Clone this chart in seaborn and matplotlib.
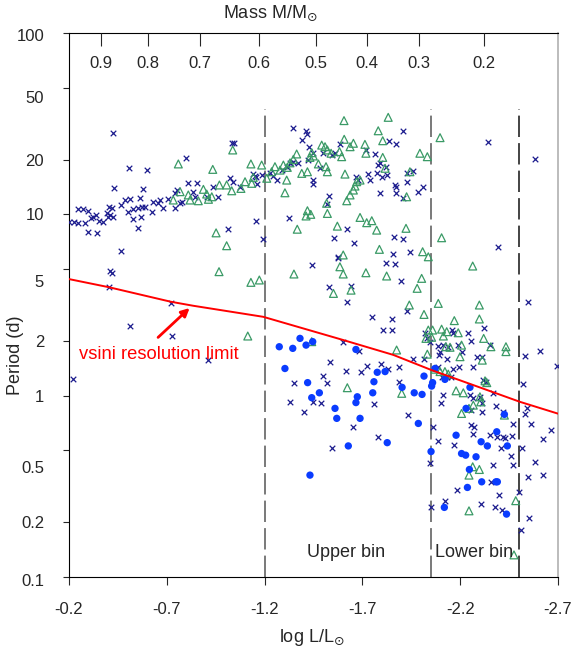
import numpy as np
import seaborn as sns
import matplotlib.pyplot as plt
import matplotlib.transforms as mtransforms

# log L/Lsun and log10 period (d) for the three samples
cross_logl = [-0.423, -0.798, -0.507, -0.597, -1.035, -1.044, -0.430, -0.580, -0.563, -0.512, -0.486, -0.466, -0.406,
              -0.418, -0.248, -0.270, -0.299, -0.338, -0.324, -0.393, -0.410, -0.426, -0.401, -0.503, -0.526, -0.554,
              -0.572, -0.589, -0.623, -0.631, -0.657, -0.682, -0.708, -0.742, -0.742, -0.768, -0.526, -0.568, -0.554,
              -0.299, -0.345, -0.202, -0.226, -0.248, -0.282, -0.311, -0.355, -0.375, -0.464, -0.807, -0.853, -0.751,
              -0.836, -0.844, -0.904, -0.963, -0.935, -1.023, -1.037, -1.074, -1.151, -1.160, -1.015, -1.156, -0.776,
              -0.665,
              -1.344, -1.412, -1.419, -1.390, -1.429, -1.585, -1.909, -1.838, -1.870, -1.718, -1.764, -1.142, -1.156,
              -1.185, -1.228, -1.245, -1.262, -1.287, -1.313, -1.330, -1.347, -1.372, -1.424, -1.449, -1.483, -1.500,
              -1.543, -1.560, -1.446, -1.446, -1.667, -1.676, -1.730, -1.739, -1.773, -1.781, -1.790, -1.801, -1.821,
              -1.824, -1.867, -1.872, -1.926, -1.926, -1.957, -1.790, -1.872, -1.909, -1.986, -2.012, -1.531, -1.521,
              -1.325, -1.190, -1.620, -1.555, -1.657, -1.862, -1.909, -1.855, -1.943, -1.577,
              -2.340, -2.582, -2.395,
              -0.410, -0.418, -0.404, -0.721, -0.512, -0.725, -0.909, -0.219,
              -1.574, -1.441, -1.821, -1.867, -1.897, -1.531, -1.642, -1.623, -1.926, -1.748, -1.850, -1.804, -1.850,
              -2.020, -2.029, -2.046, -1.599, -1.683, -1.960, -2.015, -1.534, -1.618, -1.693, -1.722, -1.794, -1.829,
              -1.889, -1.887, -1.497, -1.521, -1.352,
              -1.330, -1.449, -1.487, -1.403, -1.761, -1.935, -1.651, -1.781, -1.543, -2.110, -2.100, -2.059, -2.085,
              -2.046, -2.122, -2.049,
              -2.548, -2.323, -2.088, -2.097, -2.093, -2.114, -2.139, -2.157, -2.165, -2.238, -2.254, -2.190, -2.207,
              -2.352, -2.310, -2.288, -2.267, -2.195, -2.165, -2.134, -2.088, -2.151, -2.131, -2.105, -2.531, -2.608,
              -2.693, -2.523, -2.318, -2.332, -2.366, -2.250, -2.267, -2.301, -2.310, -2.383, -2.256, -2.310, -2.543,
              -2.531, -2.421, -2.562, -2.468, -2.664, -2.256, -2.273, -2.352, -2.387, -2.421, -2.463, -2.267, -2.622,
              -2.429, -2.409, -2.170, -2.516, -2.460, -2.370, -2.468, -2.582, -2.622, -2.545, -2.356, -2.185, -2.501,
              -2.400, -2.305, -2.378, -2.412, -2.552, -2.509]
cross_logp = [1.447, 1.309, 1.257, 1.244, 1.392, 1.392, 1.143, 1.138, 1.092, 1.083, 1.079, 1.051, 1.042,
              1.033, 1.028, 1.028, 1.018, 0.996, 0.983, 1.005, 0.996, 0.987, 0.983, 1.014, 1.028, 1.033,
              1.042, 1.039, 1.014, 1.070, 1.061, 1.033, 1.083, 1.116, 1.033, 1.061, 0.972, 0.983, 0.926,
              0.904, 0.898, 0.959, 0.959, 0.954, 0.954, 0.978, 0.965, 0.959, 0.798, 1.171, 1.171, 1.134,
              1.125, 1.094, 1.097, 1.097, 1.149, 1.199, 1.180, 1.149, 1.212, 1.167, 0.918, 0.963, 1.070,
              1.079,
              1.474, 1.461, 1.443, 1.410, 1.373, 1.388, 1.461, 1.406, 1.386, 1.355, 1.333, 1.222, 1.204,
              1.217, 1.226, 1.212, 1.189, 1.244, 1.263, 1.281, 1.290, 1.284, 1.300, 1.337, 1.254, 1.337,
              1.327, 1.337, 1.189, 1.167, 1.204, 1.189, 1.222, 1.189, 1.230, 1.272, 1.281, 1.208, 1.263,
              1.217, 1.162, 1.149, 1.180, 1.230, 1.241, 1.119, 1.116, 1.092, 1.125, 1.149, 1.101, 1.055,
              0.978, 0.862, 0.918, 0.868, 0.844, 0.873, 0.862, 0.781, 0.794, 0.763,
              1.397, 1.303, 0.822,
              0.689, 0.675, 0.601, 0.509, 0.386, 0.331, 0.196, 0.090,
              0.758, 0.720, 0.733, 0.726, 0.634, 0.601, 0.607, 0.515, 0.467, 0.432, 0.421, 0.362, 0.362,
              0.344, 0.316, 0.298, 0.298, 0.247, 0.202, 0.202, 0.184, 0.138, 0.129, 0.166, 0.173, 0.146,
              0.157, 0.077, 0.110, 0.072, 0.068,
              -0.036, -0.036, -0.042, -0.091, -0.047, -0.107, -0.172, -0.227, -0.291, 0.004, -0.042, -0.172, -0.249,
              -0.372, -0.579, -0.616,
              0.516, 0.375, 0.274, 0.243, 0.225, 0.279, 0.270, 0.362, 0.344, 0.344, 0.303, 0.279, 0.243,
              0.279, 0.215, 0.215, 0.157, 0.157, 0.146, 0.205, 0.157, 0.101, 0.105, 0.105, 0.219, 0.247,
              0.163, 0.064, 0.086, 0.077, 0.013, 0.004, -0.015, -0.006, -0.038, -0.057, -0.079, -0.089, -0.070,
              -0.103, -0.089, -0.157, -0.157, -0.190, -0.163, -0.172, -0.218, -0.227, -0.227, -0.223, -0.212, -0.240,
              -0.235, -0.291, -0.273, -0.291, -0.333, -0.380, -0.383, -0.364, -0.438, -0.451, -0.478, -0.521, -0.530,
              -0.548, -0.598, -0.616, -0.631, -0.673, -0.738]

tri_logl = [-0.759, -0.935, -1.130, -1.037, -0.733, -0.768, -0.810, -0.819, -0.861, -0.887, -0.904, -0.913, -0.969,
            -1.006, -1.032, -1.079, -1.100, -1.134, -1.142, -0.952, -1.006, -0.930,
            -1.606, -1.832, -1.781, -1.804, -2.097, -1.607, -1.637, -1.654, -1.713, -1.718, -1.492, -1.509, -1.521,
            -1.441, -1.449, -1.432, -1.475, -1.514, -1.521, -1.540, -1.583, -1.594, -1.804, -1.994, -2.032, -1.364,
            -1.347, -1.330, -1.316, -1.296, -1.279, -1.253, -1.236, -1.211, -1.185, -1.390, -1.419, -1.313, -1.611,
            -1.688, -1.671, -1.662, -1.654, -1.637, -1.620, -1.517, -1.521, -1.419, -1.436, -1.412, -1.367, -1.304,
            -1.688, -1.722, -1.748, -1.773, -1.923, -1.926, -1.787, -2.008, -2.037, -2.105, -1.572, -1.602, -1.816,
            -1.943,
            -2.264, -2.003,
            -0.967, -1.130, -1.173, -1.114,
            -1.585, -1.602, -1.350, -1.718, -1.824, -1.980, -1.552, -1.642, -2.088, -1.940, -2.015, -1.875, -1.441,
            -1.623, -1.901, -2.037, -2.059, -2.105, -2.131, -2.025, -2.054,
            -2.298, -2.298, -2.170, -2.190, -2.114, -2.148, -2.127, -2.207, -2.199, -2.320, -2.357, -2.434, -2.434,
            -2.313, -2.071, -2.097, -2.122, -2.139, -2.032, -2.327, -2.336, -2.179, -2.216, -2.301, -2.267, -2.245,
            -2.207, -2.305, -2.426,
            -2.264, -2.298, -2.245, -2.484, -2.245, -2.475]
tri_logp = [1.278, 1.248, 1.278, 1.355, 1.079, 1.125, 1.107, 1.079, 1.075, 1.138, 1.112, 1.083, 1.162,
            1.162, 1.130, 1.143, 1.180, 1.171, 1.204, 0.898, 0.827, 1.097,
            1.517, 1.535, 1.461, 1.406, 1.423, 1.414, 1.373, 1.392, 1.386, 1.337, 1.382, 1.373, 1.355,
            1.340, 1.322, 1.314, 1.278, 1.263, 1.235, 1.337, 1.346, 1.318, 1.314, 1.337, 1.318, 1.333,
            1.303, 1.284, 1.259, 1.272, 1.244, 1.263, 1.235, 1.199, 1.272, 1.226, 1.235, 1.189, 1.222,
            1.189, 1.180, 1.156, 1.134, 1.107, 1.075, 1.061, 1.005, 1.020, 1.000, 0.991, 0.918, 1.119,
            0.983, 0.954, 0.965, 0.913, 0.923, 1.097, 0.807, 0.794, 0.766, 0.871, 0.935, 0.776, 1.254,
            1.235,
            0.715, 0.647,
            0.684, 0.625, 0.638, 0.329,
            0.711, 0.671, 0.671, 0.678, 0.660, 0.592, 0.564, 0.582, 0.509, 0.500, 0.448, 0.252, 0.298,
            0.044, 0.013, 0.362, 0.362, 0.367, 0.353, 0.316, 0.322,
            0.500, 0.423, 0.414, 0.347, 0.329, 0.267, 0.270, 0.279, 0.215, 0.316, 0.270, 0.270, 0.243,
            0.196, 0.146, 0.133, 0.133, 0.119, 0.229, 0.082, 0.072, 0.027, 0.016, -0.006, -0.052, -0.070,
            -0.098, -0.034, -0.107,
            -0.392, -0.407, -0.438, -0.579, -0.635, -0.878]

dot_logl = [-1.275, -1.344, -1.381, -1.412, -1.446, -1.304, -1.420, -1.480, -1.441, -1.667, -1.776, -1.816, -1.759,
            -1.753, -1.674, -1.903, -1.965, -2.005, -2.015, -2.059, -2.054, -2.071, -2.122,
            -1.667, -1.560, -1.569, -1.688, -1.628, -1.827, -1.432, -1.986, -2.051, -2.119,
            -2.250, -2.230, -2.426, -2.387, -2.179,
            -2.307, -2.339, -2.441, -2.207, -2.228, -2.281, -2.247, -2.310, -2.383, -2.390, -2.237, -2.437]
dot_logp = [0.270, 0.261, 0.316, 0.279, 0.298, 0.150, 0.072, 0.016, -0.011, 0.255, 0.129, 0.133, 0.077,
            0.016, -0.006, 0.046, 0.016, 0.007, 0.108, 0.072, 0.053, 0.150, 0.090,
            -0.038, -0.070, -0.125, -0.125, -0.277, -0.259, -0.438, -0.153, -0.308, -0.616,
            0.046, -0.070, -0.103, -0.199, -0.218,
            -0.254, -0.277, -0.277, -0.319, -0.328, -0.337, -0.407, -0.475, -0.475, -0.475, -0.506, -0.653]

# vsini resolution limit
limit_logl = [-0.200, -0.405, -0.721, -0.835, -1.193, -1.602, -1.858, -2.054, -2.506, -2.700]
limit_logp = [0.643, 0.598, 0.518, 0.496, 0.435, 0.307, 0.225, 0.141, -0.034, -0.099]

mass_labels = ['0.9', '0.8', '0.7', '0.6', '0.5', '0.4', '0.3', '0.2']
mass_logl = [-0.362, -0.603, -0.871, -1.170, -1.461, -1.722, -1.991, -2.322]

bin_edges = [-1.2, -2.052, -2.50]
bin_colors = ['#555555', '#555555', '#111111']

yticks = [100, 50, 20, 10, 5, 2, 1, 0.5, 0.2, 0.1]
ytick_labels = ['100', '50', '20', '10', '5', '2', '1', '0.5', '0.2', '0.1']
# the original labels sit a little below some of their ticks (pixels)
ytick_shift = [2, 9, 0, 0, 12, 0, 0, 17, 0, 3]
xticks = [-0.2, -0.7, -1.2, -1.7, -2.2, -2.7]

sns.set_style('ticks')
plt.rcParams['font.family'] = ['Liberation Sans', 'DejaVu Sans']
plt.rcParams['font.size'] = 12

fig = plt.figure(figsize=(5.75, 6.54), dpi=100)
ax = fig.add_axes([0.12, 0.1177, 0.8504, 0.8318])

ax.vlines(bin_edges, 0.1, 38, colors=bin_colors, linestyles=(0, (14, 4)), lw=1.1, zorder=1)

sns.scatterplot(x=cross_logl, y=10 ** np.array(cross_logp), marker='x', s=16, color='#1c1c8e',
                linewidth=0.9, ax=ax, zorder=3)
sns.scatterplot(x=tri_logl, y=10 ** np.array(tri_logp), marker='^', s=32, ax=ax, zorder=3)
tri = ax.collections[-1]
tri.set_facecolor('none')
tri.set_edgecolor('#3a9a66')
tri.set_linewidth(0.9)
sns.scatterplot(x=dot_logl, y=10 ** np.array(dot_logp), marker='o', s=28, color='#0a3cff',
                edgecolor='none', ax=ax, zorder=4)

ax.plot(limit_logl, 10 ** np.array(limit_logp), color='red', lw=1.4, zorder=5)
ax.annotate('', xy=(-0.827, 10 ** 0.494), xytext=(-0.645, 10 ** 0.311),
            arrowprops=dict(arrowstyle='-|>', color='red', lw=2, mutation_scale=12), zorder=6)
ax.text(-0.251, 10 ** 0.229, 'vsini resolution limit', color='red', ha='left', va='center', fontsize=13.2)

ax.text(-1.615, 10 ** -0.862, 'Upper bin', ha='center', va='center', fontsize=13)
ax.text(-2.269, 10 ** -0.862, 'Lower bin', ha='center', va='center', fontsize=13)

ax.set_yscale('log')
ax.set_xlim(-0.2, -2.7)
ax.set_ylim(0.1, 100)
ax.set_yticks(yticks)
ax.set_yticklabels(ytick_labels)
ax.yaxis.set_minor_locator(plt.NullLocator())
ax.set_xticks(xticks)
ax.set_xticklabels([f'{v:.1f}' for v in xticks])
ax.tick_params(axis='y', direction='out', length=4, width=0.8, pad=14, labelsize=12)
ax.tick_params(axis='x', direction='out', length=6, width=0.8, pad=12, labelsize=12)
for lab, dy in zip(ax.get_yticklabels(), ytick_shift):
    lab.set_transform(lab.get_transform() + mtransforms.ScaledTranslation(0, -dy / 100, fig.dpi_scale_trans))
for side in ['left', 'bottom', 'top']:
    ax.spines[side].set_color('black')
    ax.spines[side].set_linewidth(0.8)
ax.spines['right'].set_color('#b0b0b0')
ax.spines['right'].set_linewidth(1.2)

top = ax.twiny()
top.set_xlim(ax.get_xlim())
top.set_xticks(mass_logl)
top.set_xticklabels(mass_labels)
top.tick_params(axis='x', direction='in', length=9, width=0.8, pad=-27, labelsize=12)
for sp in top.spines.values():
    sp.set_visible(False)

fig.text(270 / 575, 1 - 13 / 654, 'Mass M/M$_{\\odot}$', ha='center', va='center', fontsize=13)
fig.text(312 / 575, 1 - 637 / 654, 'log L/L$_{\\odot}$', ha='center', va='center', fontsize=13)
fig.text(16 / 575, 1 - 355 / 654, 'Period (d)', ha='center', va='center', rotation=90, fontsize=13)

fig.savefig('out.png', dpi=100)
